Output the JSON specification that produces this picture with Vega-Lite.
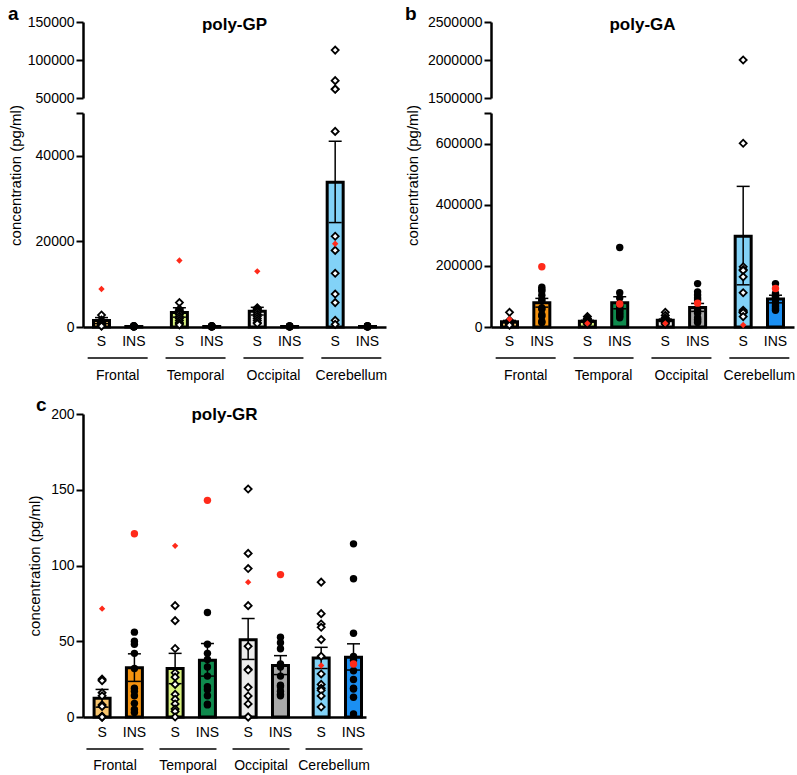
{
  "$schema": "https://vega.github.io/schema/vega-lite/v6.json",
  "padding": {"left": 8, "top": 5, "right": 5, "bottom": 5},
  "config": {
    "font": "Liberation Sans",
    "view": {"stroke": null},
    "axis": {"labelFontSize": 14, "titleFontSize": 15, "titleFontWeight": "normal", "labelColor": "black", "titleColor": "black", "domainColor": "black", "tickColor": "black", "domainWidth": 2.5, "tickWidth": 2, "tickSize": 7, "labelPadding": 2, "grid": false},
    "title": {"fontSize": 17, "fontWeight": "bold", "color": "black"},
    "text": {"fontSize": 14, "color": "black"}
  },
  "datasets": {
    "gp_bars": [
      {"region": "Frontal", "type": "S", "group": "Frontal S", "mean": 1500, "lo": 800, "hi": 2200},
      {"region": "Frontal", "type": "INS", "group": "Frontal INS", "mean": 120, "lo": 90, "hi": 150},
      {"region": "Temporal", "type": "S", "group": "Temporal S", "mean": 3400, "lo": 2300, "hi": 4500},
      {"region": "Temporal", "type": "INS", "group": "Temporal INS", "mean": 120, "lo": 90, "hi": 150},
      {"region": "Occipital", "type": "S", "group": "Occipital S", "mean": 3700, "lo": 2800, "hi": 4600},
      {"region": "Occipital", "type": "INS", "group": "Occipital INS", "mean": 120, "lo": 90, "hi": 150},
      {"region": "Cerebellum", "type": "S", "group": "Cerebellum S", "mean": 33800, "lo": 24400, "hi": 43400},
      {"region": "Cerebellum", "type": "INS", "group": "Cerebellum INS", "mean": 120, "lo": 90, "hi": 150}
    ],
    "ga_bars": [
      {"region": "Frontal", "type": "S", "group": "Frontal S", "mean": 17500, "lo": 13500, "hi": 21500},
      {"region": "Frontal", "type": "INS", "group": "Frontal INS", "mean": 79300, "lo": 65000, "hi": 93600},
      {"region": "Temporal", "type": "S", "group": "Temporal S", "mean": 19000, "lo": 16000, "hi": 22000},
      {"region": "Temporal", "type": "INS", "group": "Temporal INS", "mean": 79300, "lo": 59600, "hi": 99000},
      {"region": "Occipital", "type": "S", "group": "Occipital S", "mean": 22000, "lo": 18000, "hi": 26000},
      {"region": "Occipital", "type": "INS", "group": "Occipital INS", "mean": 64000, "lo": 51000, "hi": 77000},
      {"region": "Cerebellum", "type": "S", "group": "Cerebellum S", "mean": 297000, "lo": 138000, "hi": 460000},
      {"region": "Cerebellum", "type": "INS", "group": "Cerebellum INS", "mean": 91400, "lo": 79000, "hi": 104000}
    ],
    "gr_bars": [
      {"region": "Frontal", "type": "S", "group": "Frontal S", "mean": 12.3, "lo": 6.5, "hi": 18.2},
      {"region": "Frontal", "type": "INS", "group": "Frontal INS", "mean": 32.5, "lo": 23.5, "hi": 41.7},
      {"region": "Temporal", "type": "S", "group": "Temporal S", "mean": 32, "lo": 22, "hi": 42},
      {"region": "Temporal", "type": "INS", "group": "Temporal INS", "mean": 37.5, "lo": 27, "hi": 48.5},
      {"region": "Occipital", "type": "S", "group": "Occipital S", "mean": 51, "lo": 38, "hi": 65},
      {"region": "Occipital", "type": "INS", "group": "Occipital INS", "mean": 34, "lo": 28, "hi": 40.5},
      {"region": "Cerebellum", "type": "S", "group": "Cerebellum S", "mean": 39, "lo": 32, "hi": 46},
      {"region": "Cerebellum", "type": "INS", "group": "Cerebellum INS", "mean": 39.5, "lo": 31, "hi": 48.3}
    ],
    "gp_pts": [
      {"region": "Frontal", "type": "S", "value": 8870, "highlighted": true},
      {"region": "Frontal", "type": "S", "value": 2800}, {"region": "Frontal", "type": "S", "value": 1600}, {"region": "Frontal", "type": "S", "value": 1300}, {"region": "Frontal", "type": "S", "value": 1100}, {"region": "Frontal", "type": "S", "value": 1000}, {"region": "Frontal", "type": "S", "value": 900}, {"region": "Frontal", "type": "S", "value": 800}, {"region": "Frontal", "type": "S", "value": 600}, {"region": "Frontal", "type": "S", "value": 500}, {"region": "Frontal", "type": "S", "value": 400}, {"region": "Frontal", "type": "S", "value": 300}, {"region": "Frontal", "type": "S", "value": 200},
      {"region": "Frontal", "type": "INS", "value": 150, "highlighted": true},
      {"region": "Frontal", "type": "INS", "value": 300}, {"region": "Frontal", "type": "INS", "value": 250}, {"region": "Frontal", "type": "INS", "value": 200}, {"region": "Frontal", "type": "INS", "value": 180}, {"region": "Frontal", "type": "INS", "value": 150}, {"region": "Frontal", "type": "INS", "value": 120}, {"region": "Frontal", "type": "INS", "value": 100}, {"region": "Frontal", "type": "INS", "value": 90}, {"region": "Frontal", "type": "INS", "value": 80}, {"region": "Frontal", "type": "INS", "value": 60}, {"region": "Frontal", "type": "INS", "value": 50}, {"region": "Frontal", "type": "INS", "value": 40},
      {"region": "Temporal", "type": "S", "value": 15530, "highlighted": true},
      {"region": "Temporal", "type": "S", "value": 5700}, {"region": "Temporal", "type": "S", "value": 4200}, {"region": "Temporal", "type": "S", "value": 3800}, {"region": "Temporal", "type": "S", "value": 3500}, {"region": "Temporal", "type": "S", "value": 3200}, {"region": "Temporal", "type": "S", "value": 3000}, {"region": "Temporal", "type": "S", "value": 2500}, {"region": "Temporal", "type": "S", "value": 2000}, {"region": "Temporal", "type": "S", "value": 1500}, {"region": "Temporal", "type": "S", "value": 1000}, {"region": "Temporal", "type": "S", "value": 800}, {"region": "Temporal", "type": "S", "value": 500},
      {"region": "Temporal", "type": "INS", "value": 100, "highlighted": true},
      {"region": "Temporal", "type": "INS", "value": 280}, {"region": "Temporal", "type": "INS", "value": 240}, {"region": "Temporal", "type": "INS", "value": 200}, {"region": "Temporal", "type": "INS", "value": 170}, {"region": "Temporal", "type": "INS", "value": 140}, {"region": "Temporal", "type": "INS", "value": 120}, {"region": "Temporal", "type": "INS", "value": 100}, {"region": "Temporal", "type": "INS", "value": 80}, {"region": "Temporal", "type": "INS", "value": 60}, {"region": "Temporal", "type": "INS", "value": 50}, {"region": "Temporal", "type": "INS", "value": 40},
      {"region": "Occipital", "type": "S", "value": 13000, "highlighted": true},
      {"region": "Occipital", "type": "S", "value": 4500}, {"region": "Occipital", "type": "S", "value": 4300}, {"region": "Occipital", "type": "S", "value": 4200}, {"region": "Occipital", "type": "S", "value": 4000}, {"region": "Occipital", "type": "S", "value": 3800}, {"region": "Occipital", "type": "S", "value": 3500}, {"region": "Occipital", "type": "S", "value": 3000}, {"region": "Occipital", "type": "S", "value": 2500}, {"region": "Occipital", "type": "S", "value": 2000}, {"region": "Occipital", "type": "S", "value": 1500}, {"region": "Occipital", "type": "S", "value": 1000}, {"region": "Occipital", "type": "S", "value": 800},
      {"region": "Occipital", "type": "INS", "value": 120, "highlighted": true},
      {"region": "Occipital", "type": "INS", "value": 260}, {"region": "Occipital", "type": "INS", "value": 220}, {"region": "Occipital", "type": "INS", "value": 190}, {"region": "Occipital", "type": "INS", "value": 160}, {"region": "Occipital", "type": "INS", "value": 140}, {"region": "Occipital", "type": "INS", "value": 110}, {"region": "Occipital", "type": "INS", "value": 90}, {"region": "Occipital", "type": "INS", "value": 70}, {"region": "Occipital", "type": "INS", "value": 50}, {"region": "Occipital", "type": "INS", "value": 40}, {"region": "Occipital", "type": "INS", "value": 30},
      {"region": "Cerebellum", "type": "S", "value": 113000}, {"region": "Cerebellum", "type": "S", "value": 72800}, {"region": "Cerebellum", "type": "S", "value": 61800}, {"region": "Cerebellum", "type": "S", "value": 61500}, {"region": "Cerebellum", "type": "S", "value": 45700}, {"region": "Cerebellum", "type": "S", "value": 21200},
      {"region": "Cerebellum", "type": "S", "value": 19450, "highlighted": true},
      {"region": "Cerebellum", "type": "S", "value": 17900}, {"region": "Cerebellum", "type": "S", "value": 12550}, {"region": "Cerebellum", "type": "S", "value": 7700}, {"region": "Cerebellum", "type": "S", "value": 5700}, {"region": "Cerebellum", "type": "S", "value": 1570}, {"region": "Cerebellum", "type": "S", "value": 620},
      {"region": "Cerebellum", "type": "INS", "value": 100, "highlighted": true},
      {"region": "Cerebellum", "type": "INS", "value": 290}, {"region": "Cerebellum", "type": "INS", "value": 250}, {"region": "Cerebellum", "type": "INS", "value": 210}, {"region": "Cerebellum", "type": "INS", "value": 180}, {"region": "Cerebellum", "type": "INS", "value": 150}, {"region": "Cerebellum", "type": "INS", "value": 120}, {"region": "Cerebellum", "type": "INS", "value": 100}, {"region": "Cerebellum", "type": "INS", "value": 80}, {"region": "Cerebellum", "type": "INS", "value": 60}, {"region": "Cerebellum", "type": "INS", "value": 50}, {"region": "Cerebellum", "type": "INS", "value": 40}
    ],
    "ga_pts": [
      {"region": "Frontal", "type": "S", "value": 26000, "highlighted": true},
      {"region": "Frontal", "type": "S", "value": 48000}, {"region": "Frontal", "type": "S", "value": 22000}, {"region": "Frontal", "type": "S", "value": 20000}, {"region": "Frontal", "type": "S", "value": 18000}, {"region": "Frontal", "type": "S", "value": 16000}, {"region": "Frontal", "type": "S", "value": 15000}, {"region": "Frontal", "type": "S", "value": 14000}, {"region": "Frontal", "type": "S", "value": 12000}, {"region": "Frontal", "type": "S", "value": 10000}, {"region": "Frontal", "type": "S", "value": 8000}, {"region": "Frontal", "type": "S", "value": 6000},
      {"region": "Frontal", "type": "INS", "value": 197000, "highlighted": true},
      {"region": "Frontal", "type": "INS", "value": 130000}, {"region": "Frontal", "type": "INS", "value": 122000}, {"region": "Frontal", "type": "INS", "value": 118000}, {"region": "Frontal", "type": "INS", "value": 104000}, {"region": "Frontal", "type": "INS", "value": 90000}, {"region": "Frontal", "type": "INS", "value": 85000}, {"region": "Frontal", "type": "INS", "value": 62000}, {"region": "Frontal", "type": "INS", "value": 58000}, {"region": "Frontal", "type": "INS", "value": 40000}, {"region": "Frontal", "type": "INS", "value": 35000}, {"region": "Frontal", "type": "INS", "value": 18000}, {"region": "Frontal", "type": "INS", "value": 15000},
      {"region": "Temporal", "type": "S", "value": 12000, "highlighted": true},
      {"region": "Temporal", "type": "S", "value": 34000}, {"region": "Temporal", "type": "S", "value": 28000}, {"region": "Temporal", "type": "S", "value": 25000}, {"region": "Temporal", "type": "S", "value": 22000}, {"region": "Temporal", "type": "S", "value": 20000}, {"region": "Temporal", "type": "S", "value": 18000}, {"region": "Temporal", "type": "S", "value": 16000}, {"region": "Temporal", "type": "S", "value": 15000}, {"region": "Temporal", "type": "S", "value": 14000}, {"region": "Temporal", "type": "S", "value": 12000}, {"region": "Temporal", "type": "S", "value": 10000},
      {"region": "Temporal", "type": "INS", "value": 75000, "highlighted": true},
      {"region": "Temporal", "type": "INS", "value": 260000}, {"region": "Temporal", "type": "INS", "value": 112000}, {"region": "Temporal", "type": "INS", "value": 95000}, {"region": "Temporal", "type": "INS", "value": 70000}, {"region": "Temporal", "type": "INS", "value": 66000}, {"region": "Temporal", "type": "INS", "value": 60000}, {"region": "Temporal", "type": "INS", "value": 55000}, {"region": "Temporal", "type": "INS", "value": 50000}, {"region": "Temporal", "type": "INS", "value": 45000}, {"region": "Temporal", "type": "INS", "value": 40000}, {"region": "Temporal", "type": "INS", "value": 35000}, {"region": "Temporal", "type": "INS", "value": 30000},
      {"region": "Occipital", "type": "S", "value": 12000, "highlighted": true},
      {"region": "Occipital", "type": "S", "value": 48000}, {"region": "Occipital", "type": "S", "value": 38000}, {"region": "Occipital", "type": "S", "value": 30000}, {"region": "Occipital", "type": "S", "value": 28000}, {"region": "Occipital", "type": "S", "value": 25000}, {"region": "Occipital", "type": "S", "value": 22000}, {"region": "Occipital", "type": "S", "value": 20000}, {"region": "Occipital", "type": "S", "value": 18000}, {"region": "Occipital", "type": "S", "value": 15000}, {"region": "Occipital", "type": "S", "value": 12000}, {"region": "Occipital", "type": "S", "value": 10000},
      {"region": "Occipital", "type": "INS", "value": 78000, "highlighted": true},
      {"region": "Occipital", "type": "INS", "value": 142000}, {"region": "Occipital", "type": "INS", "value": 115000}, {"region": "Occipital", "type": "INS", "value": 105000}, {"region": "Occipital", "type": "INS", "value": 95000}, {"region": "Occipital", "type": "INS", "value": 88000}, {"region": "Occipital", "type": "INS", "value": 55000}, {"region": "Occipital", "type": "INS", "value": 45000}, {"region": "Occipital", "type": "INS", "value": 30000}, {"region": "Occipital", "type": "INS", "value": 25000}, {"region": "Occipital", "type": "INS", "value": 20000}, {"region": "Occipital", "type": "INS", "value": 15000},
      {"region": "Cerebellum", "type": "S", "value": 6500, "highlighted": true},
      {"region": "Cerebellum", "type": "S", "value": 2000000}, {"region": "Cerebellum", "type": "S", "value": 601000}, {"region": "Cerebellum", "type": "S", "value": 197000}, {"region": "Cerebellum", "type": "S", "value": 188000}, {"region": "Cerebellum", "type": "S", "value": 185000}, {"region": "Cerebellum", "type": "S", "value": 164000}, {"region": "Cerebellum", "type": "S", "value": 112000}, {"region": "Cerebellum", "type": "S", "value": 55000}, {"region": "Cerebellum", "type": "S", "value": 50000}, {"region": "Cerebellum", "type": "S", "value": 48000}, {"region": "Cerebellum", "type": "S", "value": 47000}, {"region": "Cerebellum", "type": "S", "value": 34000},
      {"region": "Cerebellum", "type": "INS", "value": 126000, "highlighted": true},
      {"region": "Cerebellum", "type": "INS", "value": 142000}, {"region": "Cerebellum", "type": "INS", "value": 110000}, {"region": "Cerebellum", "type": "INS", "value": 100000}, {"region": "Cerebellum", "type": "INS", "value": 98000}, {"region": "Cerebellum", "type": "INS", "value": 95000}, {"region": "Cerebellum", "type": "INS", "value": 90000}, {"region": "Cerebellum", "type": "INS", "value": 80000}, {"region": "Cerebellum", "type": "INS", "value": 72000}, {"region": "Cerebellum", "type": "INS", "value": 66000}, {"region": "Cerebellum", "type": "INS", "value": 60000}, {"region": "Cerebellum", "type": "INS", "value": 55000}
    ],
    "gr_pts": [
      {"region": "Frontal", "type": "S", "value": 71.5, "highlighted": true},
      {"region": "Frontal", "type": "S", "value": 25}, {"region": "Frontal", "type": "S", "value": 24}, {"region": "Frontal", "type": "S", "value": 16}, {"region": "Frontal", "type": "S", "value": 14}, {"region": "Frontal", "type": "S", "value": 8}, {"region": "Frontal", "type": "S", "value": 7}, {"region": "Frontal", "type": "S", "value": 0.5}, {"region": "Frontal", "type": "S", "value": 0.3}, {"region": "Frontal", "type": "S", "value": 0}, {"region": "Frontal", "type": "S", "value": 0}, {"region": "Frontal", "type": "S", "value": 0}, {"region": "Frontal", "type": "S", "value": 0},
      {"region": "Frontal", "type": "INS", "value": 121, "highlighted": true},
      {"region": "Frontal", "type": "INS", "value": 56}, {"region": "Frontal", "type": "INS", "value": 50}, {"region": "Frontal", "type": "INS", "value": 48}, {"region": "Frontal", "type": "INS", "value": 42}, {"region": "Frontal", "type": "INS", "value": 32}, {"region": "Frontal", "type": "INS", "value": 19}, {"region": "Frontal", "type": "INS", "value": 17}, {"region": "Frontal", "type": "INS", "value": 14}, {"region": "Frontal", "type": "INS", "value": 9}, {"region": "Frontal", "type": "INS", "value": 5}, {"region": "Frontal", "type": "INS", "value": 3},
      {"region": "Temporal", "type": "S", "value": 113, "highlighted": true},
      {"region": "Temporal", "type": "S", "value": 73.5}, {"region": "Temporal", "type": "S", "value": 63.6}, {"region": "Temporal", "type": "S", "value": 45.2}, {"region": "Temporal", "type": "S", "value": 29.2}, {"region": "Temporal", "type": "S", "value": 26.3}, {"region": "Temporal", "type": "S", "value": 21.5}, {"region": "Temporal", "type": "S", "value": 15}, {"region": "Temporal", "type": "S", "value": 11.7}, {"region": "Temporal", "type": "S", "value": 8.6}, {"region": "Temporal", "type": "S", "value": 5.3}, {"region": "Temporal", "type": "S", "value": 3.7}, {"region": "Temporal", "type": "S", "value": 0},
      {"region": "Temporal", "type": "INS", "value": 143, "highlighted": true},
      {"region": "Temporal", "type": "INS", "value": 69}, {"region": "Temporal", "type": "INS", "value": 48}, {"region": "Temporal", "type": "INS", "value": 42}, {"region": "Temporal", "type": "INS", "value": 38}, {"region": "Temporal", "type": "INS", "value": 33}, {"region": "Temporal", "type": "INS", "value": 27}, {"region": "Temporal", "type": "INS", "value": 20}, {"region": "Temporal", "type": "INS", "value": 18}, {"region": "Temporal", "type": "INS", "value": 14}, {"region": "Temporal", "type": "INS", "value": 8.5}, {"region": "Temporal", "type": "INS", "value": 8},
      {"region": "Occipital", "type": "S", "value": 89, "highlighted": true},
      {"region": "Occipital", "type": "S", "value": 150.5}, {"region": "Occipital", "type": "S", "value": 108}, {"region": "Occipital", "type": "S", "value": 98}, {"region": "Occipital", "type": "S", "value": 73.5}, {"region": "Occipital", "type": "S", "value": 46.7}, {"region": "Occipital", "type": "S", "value": 31.5}, {"region": "Occipital", "type": "S", "value": 31}, {"region": "Occipital", "type": "S", "value": 19.6}, {"region": "Occipital", "type": "S", "value": 13.9}, {"region": "Occipital", "type": "S", "value": 8.6}, {"region": "Occipital", "type": "S", "value": 0}, {"region": "Occipital", "type": "S", "value": 0},
      {"region": "Occipital", "type": "INS", "value": 94, "highlighted": true},
      {"region": "Occipital", "type": "INS", "value": 52.6}, {"region": "Occipital", "type": "INS", "value": 49}, {"region": "Occipital", "type": "INS", "value": 45}, {"region": "Occipital", "type": "INS", "value": 35}, {"region": "Occipital", "type": "INS", "value": 33}, {"region": "Occipital", "type": "INS", "value": 27}, {"region": "Occipital", "type": "INS", "value": 21}, {"region": "Occipital", "type": "INS", "value": 20}, {"region": "Occipital", "type": "INS", "value": 17}, {"region": "Occipital", "type": "INS", "value": 15}, {"region": "Occipital", "type": "INS", "value": 14},
      {"region": "Cerebellum", "type": "S", "value": 34, "highlighted": true},
      {"region": "Cerebellum", "type": "S", "value": 89}, {"region": "Cerebellum", "type": "S", "value": 68.2}, {"region": "Cerebellum", "type": "S", "value": 61.4}, {"region": "Cerebellum", "type": "S", "value": 59.2}, {"region": "Cerebellum", "type": "S", "value": 51.1}, {"region": "Cerebellum", "type": "S", "value": 40.1}, {"region": "Cerebellum", "type": "S", "value": 28.4}, {"region": "Cerebellum", "type": "S", "value": 21.5}, {"region": "Cerebellum", "type": "S", "value": 18.9}, {"region": "Cerebellum", "type": "S", "value": 17.6}, {"region": "Cerebellum", "type": "S", "value": 13.9}, {"region": "Cerebellum", "type": "S", "value": 6.6},
      {"region": "Cerebellum", "type": "INS", "value": 35, "highlighted": true},
      {"region": "Cerebellum", "type": "INS", "value": 114.3}, {"region": "Cerebellum", "type": "INS", "value": 91.2}, {"region": "Cerebellum", "type": "INS", "value": 55.3}, {"region": "Cerebellum", "type": "INS", "value": 40}, {"region": "Cerebellum", "type": "INS", "value": 37.5}, {"region": "Cerebellum", "type": "INS", "value": 30.5}, {"region": "Cerebellum", "type": "INS", "value": 24.7}, {"region": "Cerebellum", "type": "INS", "value": 19}, {"region": "Cerebellum", "type": "INS", "value": 18.5}, {"region": "Cerebellum", "type": "INS", "value": 13}, {"region": "Cerebellum", "type": "INS", "value": 2}
    ]
  },
  "columns": 1,
  "align": "none",
  "spacing": 13,
  "concat": [
    {
      "spacing": 17,
      "hconcat": [
        {
          "title": {"text": "a", "anchor": "start", "frame": "bounds", "fontSize": 19, "offset": -9},
          "bounds": "flush",
          "spacing": 15,
          "vconcat": [
            {
              "width": 303, "height": 76,
              "title": {"text": "poly-GP", "baseline": "bottom", "offset": -9, "dy": 27},
              "data": {"name": "gp_pts"},
              "transform": [{"filter": "datum.value > 50000"}],
              "mark": {"type": "point", "shape": "diamond", "filled": true, "fill": "white", "stroke": "black", "strokeWidth": 1.8, "size": 50, "opacity": 1},
              "encoding": {
                "x": {"field": "region", "type": "nominal", "scale": {"domain": ["Frontal", "Temporal", "Occipital", "Cerebellum"], "paddingInner": 0.17, "paddingOuter": 0.03}, "axis": null},
                "xOffset": {"field": "type", "type": "nominal", "scale": {"domain": ["S", "INS"]}},
                "y": {"field": "value", "type": "quantitative", "scale": {"domain": [50000, 150000], "nice": false, "zero": false}, "axis": {"title": null, "values": [50000, 100000, 150000], "format": "d"}}
              }
            },
            {
              "width": 303, "height": 214,
              "encoding": {
                "x": {"field": "region", "type": "nominal", "scale": {"domain": ["Frontal", "Temporal", "Occipital", "Cerebellum"], "paddingInner": 0.17, "paddingOuter": 0.03}, "axis": {"title": null, "labels": false, "ticks": false, "domainWidth": 2.5}}
              },
              "layer": [
                {
                  "data": {"name": "gp_bars"},
                  "mark": {"type": "bar", "width": 16, "stroke": "black", "strokeWidth": 3},
                  "encoding": {
                    "xOffset": {"field": "type", "type": "nominal", "scale": {"domain": ["S", "INS"]}},
                    "y": {"field": "mean", "type": "quantitative", "title": "concentration (pg/ml)", "scale": {"domain": [0, 50000], "nice": false}, "axis": {"title": "concentration (pg/ml)", "values": [0, 20000, 40000, 50000], "format": "d", "labelExpr": "datum.value == 50000 ? '' : datum.label", "titleX": -60, "titleY": 62}},
                    "fill": {"field": "group", "type": "nominal", "legend": null, "scale": {"domain": ["Frontal S", "Frontal INS", "Temporal S", "Temporal INS", "Occipital S", "Occipital INS", "Cerebellum S", "Cerebellum INS"], "range": ["#f7c46c", "#f5930f", "#d8f27e", "#0f8a4d", "#ececec", "#a9a9a9", "#82d2f7", "#1b8ff2"]}}
                  }
                },
                {
                  "data": {"name": "gp_bars"},
                  "mark": {"type": "rule", "strokeWidth": 1.5, "color": "black"},
                  "encoding": {"xOffset": {"field": "type", "type": "nominal"}, "y": {"field": "lo", "type": "quantitative", "title": "concentration (pg/ml)"}, "y2": {"field": "hi"}}
                },
                {
                  "data": {"name": "gp_bars"},
                  "mark": {"type": "tick", "size": 13, "thickness": 1.5, "color": "black", "opacity": 1},
                  "encoding": {"xOffset": {"field": "type", "type": "nominal"}, "y": {"field": "lo", "type": "quantitative", "title": "concentration (pg/ml)"}}
                },
                {
                  "data": {"name": "gp_bars"},
                  "mark": {"type": "tick", "size": 13, "thickness": 1.5, "color": "black", "opacity": 1},
                  "encoding": {"xOffset": {"field": "type", "type": "nominal"}, "y": {"field": "hi", "type": "quantitative", "title": "concentration (pg/ml)"}}
                },
                {
                  "data": {"name": "gp_pts"},
                  "transform": [{"filter": "datum.type == 'S' && !datum.highlighted && datum.value <= 50000"}],
                  "mark": {"type": "point", "shape": "diamond", "filled": true, "fill": "white", "stroke": "black", "strokeWidth": 1.8, "size": 50, "opacity": 1},
                  "encoding": {"xOffset": {"field": "type", "type": "nominal"}, "y": {"field": "value", "type": "quantitative", "title": "concentration (pg/ml)"}}
                },
                {
                  "data": {"name": "gp_pts"},
                  "transform": [{"filter": "datum.type == 'INS' && datum.highlighted"}],
                  "mark": {"type": "point", "shape": "circle", "filled": true, "fill": "#ff2a1a", "strokeWidth": 0, "size": 55, "opacity": 1},
                  "encoding": {"xOffset": {"field": "type", "type": "nominal"}, "y": {"field": "value", "type": "quantitative", "title": "concentration (pg/ml)"}}
                },
                {
                  "data": {"name": "gp_pts"},
                  "transform": [{"filter": "datum.type == 'INS' && !datum.highlighted && datum.value <= 50000"}],
                  "mark": {"type": "point", "shape": "circle", "filled": true, "fill": "black", "strokeWidth": 0, "size": 55, "opacity": 1},
                  "encoding": {"xOffset": {"field": "type", "type": "nominal"}, "y": {"field": "value", "type": "quantitative", "title": "concentration (pg/ml)"}}
                },
                {
                  "data": {"name": "gp_pts"},
                  "transform": [{"filter": "datum.type == 'S' && datum.highlighted"}],
                  "mark": {"type": "point", "shape": "diamond", "filled": true, "fill": "#ff2a1a", "strokeWidth": 0, "size": 40, "opacity": 1},
                  "encoding": {"xOffset": {"field": "type", "type": "nominal"}, "y": {"field": "value", "type": "quantitative", "title": "concentration (pg/ml)"}}
                },
                {
                  "data": {"name": "gp_bars"},
                  "mark": {"type": "text", "dy": 15, "baseline": "middle", "fontSize": 14},
                  "encoding": {"xOffset": {"field": "type", "type": "nominal"}, "y": {"datum": 0, "type": "quantitative", "title": "concentration (pg/ml)"}, "text": {"field": "type"}}
                },
                {
                  "data": {"name": "gp_bars"},
                  "transform": [{"filter": "datum.type == 'S'"}],
                  "mark": {"type": "tick", "size": 60, "thickness": 1.5, "yOffset": 31, "color": "black", "opacity": 1},
                  "encoding": {"y": {"datum": 0, "type": "quantitative", "title": "concentration (pg/ml)"}}
                },
                {
                  "data": {"name": "gp_bars"},
                  "transform": [{"filter": "datum.type == 'S'"}],
                  "mark": {"type": "text", "dy": 49, "baseline": "middle", "fontSize": 14},
                  "encoding": {"y": {"datum": 0, "type": "quantitative", "title": "concentration (pg/ml)"}, "text": {"field": "region"}}
                }
              ]
            }
          ]
        },
        {
          "title": {"text": "b", "anchor": "start", "frame": "bounds", "fontSize": 19, "offset": -9},
          "bounds": "flush",
          "spacing": 15,
          "vconcat": [
            {
              "width": 303, "height": 76,
              "title": {"text": "poly-GA", "baseline": "bottom", "offset": -9, "dy": 27},
              "data": {"name": "ga_pts"},
              "transform": [{"filter": "datum.value > 700000"}],
              "mark": {"type": "point", "shape": "diamond", "filled": true, "fill": "white", "stroke": "black", "strokeWidth": 1.8, "size": 50, "opacity": 1},
              "encoding": {
                "x": {"field": "region", "type": "nominal", "scale": {"domain": ["Frontal", "Temporal", "Occipital", "Cerebellum"], "paddingInner": 0.17, "paddingOuter": 0.03}, "axis": null},
                "xOffset": {"field": "type", "type": "nominal", "scale": {"domain": ["S", "INS"]}},
                "y": {"field": "value", "type": "quantitative", "scale": {"domain": [1500000, 2500000], "nice": false, "zero": false}, "axis": {"title": null, "values": [1500000, 2000000, 2500000], "format": "d"}}
              }
            },
            {
              "width": 303, "height": 214,
              "encoding": {
                "x": {"field": "region", "type": "nominal", "scale": {"domain": ["Frontal", "Temporal", "Occipital", "Cerebellum"], "paddingInner": 0.17, "paddingOuter": 0.03}, "axis": {"title": null, "labels": false, "ticks": false, "domainWidth": 2.5}}
              },
              "layer": [
                {
                  "data": {"name": "ga_bars"},
                  "mark": {"type": "bar", "width": 16, "stroke": "black", "strokeWidth": 3},
                  "encoding": {
                    "xOffset": {"field": "type", "type": "nominal", "scale": {"domain": ["S", "INS"]}},
                    "y": {"field": "mean", "type": "quantitative", "title": "concentration (pg/ml)", "scale": {"domain": [0, 700000], "nice": false}, "axis": {"title": "concentration (pg/ml)", "values": [0, 200000, 400000, 600000, 700000], "format": "d", "labelExpr": "datum.value == 700000 ? '' : datum.label", "titleX": -71, "titleY": 62}},
                    "fill": {"field": "group", "type": "nominal", "legend": null, "scale": {"domain": ["Frontal S", "Frontal INS", "Temporal S", "Temporal INS", "Occipital S", "Occipital INS", "Cerebellum S", "Cerebellum INS"], "range": ["#f7c46c", "#f5930f", "#d8f27e", "#0f8a4d", "#ececec", "#a9a9a9", "#82d2f7", "#1b8ff2"]}}
                  }
                },
                {
                  "data": {"name": "ga_bars"},
                  "mark": {"type": "rule", "strokeWidth": 1.5, "color": "black"},
                  "encoding": {"xOffset": {"field": "type", "type": "nominal"}, "y": {"field": "lo", "type": "quantitative", "title": "concentration (pg/ml)"}, "y2": {"field": "hi"}}
                },
                {
                  "data": {"name": "ga_bars"},
                  "mark": {"type": "tick", "size": 13, "thickness": 1.5, "color": "black", "opacity": 1},
                  "encoding": {"xOffset": {"field": "type", "type": "nominal"}, "y": {"field": "lo", "type": "quantitative", "title": "concentration (pg/ml)"}}
                },
                {
                  "data": {"name": "ga_bars"},
                  "mark": {"type": "tick", "size": 13, "thickness": 1.5, "color": "black", "opacity": 1},
                  "encoding": {"xOffset": {"field": "type", "type": "nominal"}, "y": {"field": "hi", "type": "quantitative", "title": "concentration (pg/ml)"}}
                },
                {
                  "data": {"name": "ga_pts"},
                  "transform": [{"filter": "datum.type == 'S' && !datum.highlighted && datum.value <= 700000"}],
                  "mark": {"type": "point", "shape": "diamond", "filled": true, "fill": "white", "stroke": "black", "strokeWidth": 1.8, "size": 50, "opacity": 1},
                  "encoding": {"xOffset": {"field": "type", "type": "nominal"}, "y": {"field": "value", "type": "quantitative", "title": "concentration (pg/ml)"}}
                },
                {
                  "data": {"name": "ga_pts"},
                  "transform": [{"filter": "datum.type == 'INS' && !datum.highlighted && datum.value <= 700000"}],
                  "mark": {"type": "point", "shape": "circle", "filled": true, "fill": "black", "strokeWidth": 0, "size": 55, "opacity": 1},
                  "encoding": {"xOffset": {"field": "type", "type": "nominal"}, "y": {"field": "value", "type": "quantitative", "title": "concentration (pg/ml)"}}
                },
                {
                  "data": {"name": "ga_pts"},
                  "transform": [{"filter": "datum.type == 'S' && datum.highlighted"}],
                  "mark": {"type": "point", "shape": "diamond", "filled": true, "fill": "#ff2a1a", "strokeWidth": 0, "size": 40, "opacity": 1},
                  "encoding": {"xOffset": {"field": "type", "type": "nominal"}, "y": {"field": "value", "type": "quantitative", "title": "concentration (pg/ml)"}}
                },
                {
                  "data": {"name": "ga_pts"},
                  "transform": [{"filter": "datum.type == 'INS' && datum.highlighted"}],
                  "mark": {"type": "point", "shape": "circle", "filled": true, "fill": "#ff2a1a", "strokeWidth": 0, "size": 55, "opacity": 1},
                  "encoding": {"xOffset": {"field": "type", "type": "nominal"}, "y": {"field": "value", "type": "quantitative", "title": "concentration (pg/ml)"}}
                },
                {
                  "data": {"name": "ga_bars"},
                  "mark": {"type": "text", "dy": 15, "baseline": "middle", "fontSize": 14},
                  "encoding": {"xOffset": {"field": "type", "type": "nominal"}, "y": {"datum": 0, "type": "quantitative", "title": "concentration (pg/ml)"}, "text": {"field": "type"}}
                },
                {
                  "data": {"name": "ga_bars"},
                  "transform": [{"filter": "datum.type == 'S'"}],
                  "mark": {"type": "tick", "size": 60, "thickness": 1.5, "yOffset": 31, "color": "black", "opacity": 1},
                  "encoding": {"y": {"datum": 0, "type": "quantitative", "title": "concentration (pg/ml)"}}
                },
                {
                  "data": {"name": "ga_bars"},
                  "transform": [{"filter": "datum.type == 'S'"}],
                  "mark": {"type": "text", "dy": 49, "baseline": "middle", "fontSize": 14},
                  "encoding": {"y": {"datum": 0, "type": "quantitative", "title": "concentration (pg/ml)"}, "text": {"field": "region"}}
                }
              ]
            }
          ]
        }
      ]
    },
    {
      "title": {"text": "c", "anchor": "start", "frame": "bounds", "fontSize": 19, "offset": -9, "dx": 28},
      "vconcat": [
        {
          "width": 283, "height": 303,
          "title": {"text": "poly-GR", "baseline": "bottom", "offset": -15, "dy": 19},
          "encoding": {
            "x": {"field": "region", "type": "nominal", "scale": {"domain": ["Frontal", "Temporal", "Occipital", "Cerebellum"], "paddingInner": 0.205, "paddingOuter": 0.04}, "axis": {"title": null, "labels": false, "ticks": false, "domainWidth": 2.5}}
          },
          "layer": [
            {
              "data": {"name": "gr_bars"},
              "mark": {"type": "bar", "width": 16, "stroke": "black", "strokeWidth": 3},
              "encoding": {
                "xOffset": {"field": "type", "type": "nominal", "scale": {"domain": ["S", "INS"]}},
                "y": {"field": "mean", "type": "quantitative", "title": "concentration (pg/ml)", "scale": {"domain": [0, 200], "nice": false}, "axis": {"title": "concentration (pg/ml)", "values": [0, 50, 100, 150, 200], "titleX": -41, "minExtent": 75}},
                "fill": {"field": "group", "type": "nominal", "legend": null, "scale": {"domain": ["Frontal S", "Frontal INS", "Temporal S", "Temporal INS", "Occipital S", "Occipital INS", "Cerebellum S", "Cerebellum INS"], "range": ["#f7c46c", "#f5930f", "#d8f27e", "#0f8a4d", "#ececec", "#a9a9a9", "#82d2f7", "#1b8ff2"]}}
              }
            },
            {
              "data": {"name": "gr_bars"},
              "mark": {"type": "rule", "strokeWidth": 1.5, "color": "black"},
              "encoding": {"xOffset": {"field": "type", "type": "nominal"}, "y": {"field": "lo", "type": "quantitative", "title": "concentration (pg/ml)"}, "y2": {"field": "hi"}}
            },
            {
              "data": {"name": "gr_bars"},
              "mark": {"type": "tick", "size": 13, "thickness": 1.5, "color": "black", "opacity": 1},
              "encoding": {"xOffset": {"field": "type", "type": "nominal"}, "y": {"field": "lo", "type": "quantitative", "title": "concentration (pg/ml)"}}
            },
            {
              "data": {"name": "gr_bars"},
              "mark": {"type": "tick", "size": 13, "thickness": 1.5, "color": "black", "opacity": 1},
              "encoding": {"xOffset": {"field": "type", "type": "nominal"}, "y": {"field": "hi", "type": "quantitative", "title": "concentration (pg/ml)"}}
            },
            {
              "data": {"name": "gr_pts"},
              "transform": [{"filter": "datum.type == 'S' && !datum.highlighted"}],
              "mark": {"type": "point", "shape": "diamond", "filled": true, "fill": "white", "stroke": "black", "strokeWidth": 1.8, "size": 50, "opacity": 1},
              "encoding": {"xOffset": {"field": "type", "type": "nominal"}, "y": {"field": "value", "type": "quantitative", "title": "concentration (pg/ml)"}}
            },
            {
              "data": {"name": "gr_pts"},
              "transform": [{"filter": "datum.type == 'INS' && !datum.highlighted"}],
              "mark": {"type": "point", "shape": "circle", "filled": true, "fill": "black", "strokeWidth": 0, "size": 55, "opacity": 1},
              "encoding": {"xOffset": {"field": "type", "type": "nominal"}, "y": {"field": "value", "type": "quantitative", "title": "concentration (pg/ml)"}}
            },
            {
              "data": {"name": "gr_pts"},
              "transform": [{"filter": "datum.type == 'S' && datum.highlighted"}],
              "mark": {"type": "point", "shape": "diamond", "filled": true, "fill": "#ff2a1a", "strokeWidth": 0, "size": 40, "opacity": 1},
              "encoding": {"xOffset": {"field": "type", "type": "nominal"}, "y": {"field": "value", "type": "quantitative", "title": "concentration (pg/ml)"}}
            },
            {
              "data": {"name": "gr_pts"},
              "transform": [{"filter": "datum.type == 'INS' && datum.highlighted"}],
              "mark": {"type": "point", "shape": "circle", "filled": true, "fill": "#ff2a1a", "strokeWidth": 0, "size": 55, "opacity": 1},
              "encoding": {"xOffset": {"field": "type", "type": "nominal"}, "y": {"field": "value", "type": "quantitative", "title": "concentration (pg/ml)"}}
            },
            {
              "data": {"name": "gr_bars"},
              "mark": {"type": "text", "dy": 16, "baseline": "middle", "fontSize": 14},
              "encoding": {"xOffset": {"field": "type", "type": "nominal"}, "y": {"datum": 0, "type": "quantitative", "title": "concentration (pg/ml)"}, "text": {"field": "type"}}
            },
            {
              "data": {"name": "gr_bars"},
              "transform": [{"filter": "datum.type == 'S'"}],
              "mark": {"type": "tick", "size": 57, "thickness": 1.5, "yOffset": 32, "color": "black", "opacity": 1},
              "encoding": {"y": {"datum": 0, "type": "quantitative", "title": "concentration (pg/ml)"}}
            },
            {
              "data": {"name": "gr_bars"},
              "transform": [{"filter": "datum.type == 'S'"}],
              "mark": {"type": "text", "dy": 49, "baseline": "middle", "fontSize": 14},
              "encoding": {"y": {"datum": 0, "type": "quantitative", "title": "concentration (pg/ml)"}, "text": {"field": "region"}}
            }
          ]
        }
      ]
    }
  ]
}
